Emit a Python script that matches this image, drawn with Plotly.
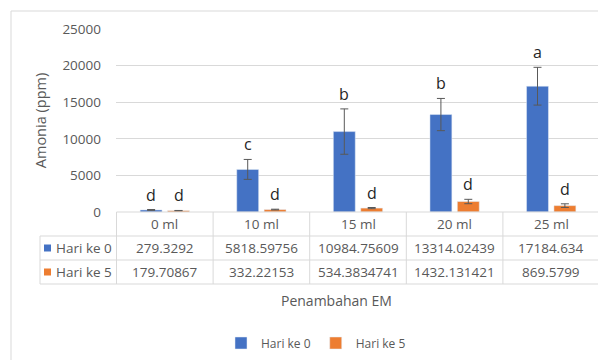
import plotly.graph_objects as go

categories = ["0 ml", "10 ml", "15 ml", "20 ml", "25 ml"]
series_names = ["Hari ke 0", "Hari ke 5"]
hari0 = [279.3292, 5818.59756, 10984.75609, 13314.02439, 17184.634]
hari5 = [179.70867, 332.22153, 534.3834741, 1432.131421, 869.5799]
err0 = [60, 1360, 3100, 2200, 2580]
err5 = [30, 50, 80, 300, 250]
letters0 = ["d", "c", "b", "b", "a"]
letters5 = ["d", "d", "d", "d", "d"]
y_ticks = [0, 5000, 10000, 15000, 20000, 25000]
y_ticktext = ["0", "5000", "10000", "15000", "20000", "25000"]
x_title = "Penambahan EM"
y_title = "Amonia (ppm)"

BLUE = "#4472C4"
ORANGE = "#ED7D31"
GRID = "#d9d9d9"
TXT = "#595959"
FONT = "Open Sans"

# the page body has an 8px margin: size the figure so it ends at the window edge
OFF = 8
W, H = 606 - OFF, 360 - OFF
ML, MR, MT, MB = 40 - OFF, 6, 29 - OFF, 76
PW, PH = W - ML - MR, H - MT - MB
plot_left_px = 116       # page coordinates
plot_bottom_px = 212
row_h = 24
xdom0 = (plot_left_px - 40) / PW
ydom0 = (284 - plot_bottom_px) / PH


def px_x(p):
    """page x pixel -> paper fraction"""
    return (p - OFF - ML) / PW


def px_y(p):
    """page y pixel -> paper fraction"""
    return ((H - MB) - (p - OFF)) / PH


fig = go.Figure()
err_color = "#595959"
fig.add_trace(go.Bar(
    name=series_names[0], x=categories, y=hari0, marker_color=BLUE,
    error_y=dict(type="data", array=err0, color=err_color, thickness=1, width=4),
))
fig.add_trace(go.Bar(
    name=series_names[1], x=categories, y=hari5, marker_color=ORANGE,
    error_y=dict(type="data", array=err5, color=err_color, thickness=1, width=4),
))

annotations = []
shapes = []
lfont = dict(family=FONT, size=16, color="#262626")
for i, c in enumerate(categories):
    annotations.append(dict(x=c, y=hari0[i] + err0[i], xref="x", yref="y", text=letters0[i],
                            showarrow=False, xshift=-13.75, yanchor="bottom", yshift=2, font=lfont))
    annotations.append(dict(x=c, y=hari5[i] + err5[i], xref="x", yref="y", text=letters5[i],
                            showarrow=False, xshift=13.75, yanchor="bottom", yshift=2, font=lfont))

# ---- data table under the chart (Excel-style) ----
tfont = dict(family=FONT, size=13.5, color=TXT)
top = plot_bottom_px
rows_y = [top + row_h * k for k in range(4)]  # 212, 236, 260, 284
for i, c in enumerate(categories):
    annotations.append(dict(x=c, xref="x", y=px_y(rows_y[0] + row_h / 2), yref="paper", text=c,
                            showarrow=False, xanchor="center", yanchor="middle", font=tfont))
for r, (name, vals, col) in enumerate([(series_names[0], hari0, BLUE), (series_names[1], hari5, ORANGE)]):
    yc = rows_y[r + 1] + row_h / 2
    for i, c in enumerate(categories):
        annotations.append(dict(x=c, xref="x", y=px_y(yc), yref="paper", text=str(vals[i]),
                                showarrow=False, xanchor="center", yanchor="middle", font=tfont))
    annotations.append(dict(x=px_x(54), xref="paper", y=px_y(yc), yref="paper", text=name,
                            showarrow=False, xanchor="left", yanchor="middle", font=tfont))
    shapes.append(dict(type="rect", xref="paper", yref="paper",
                       x0=px_x(44), x1=px_x(51), y0=px_y(yc - 3.5), y1=px_y(yc + 3.5),
                       fillcolor=col, line=dict(width=0)))
shapes.append(dict(type="line", xref="x", yref="paper", x0=-0.5, x1=len(categories) - 0.5,
                   y0=px_y(rows_y[0]), y1=px_y(rows_y[0]), line=dict(color=GRID, width=1)))
for k in (1, 2, 3):
    shapes.append(dict(type="line", xref="paper", yref="paper", x0=0, x1=1,
                       y0=px_y(rows_y[k]), y1=px_y(rows_y[k]), line=dict(color=GRID, width=1)))
shapes.append(dict(type="line", xref="paper", yref="paper", x0=0, x1=0,
                   y0=px_y(rows_y[1]), y1=px_y(rows_y[3]), line=dict(color=GRID, width=1)))
for i in range(len(categories) + 1):
    shapes.append(dict(type="line", xref="x", yref="paper", x0=i - 0.5, x1=i - 0.5,
                       y0=px_y(rows_y[0]), y1=px_y(rows_y[3]), line=dict(color=GRID, width=1)))

annotations.append(dict(x=px_x(336), y=px_y(300), xref="paper", yref="paper", text=x_title,
                        showarrow=False, xanchor="center", yanchor="middle",
                        font=dict(family=FONT, size=14, color=TXT)))

# outer chart border (partially visible in the crop)
shapes += [
    dict(type="line", xref="paper", yref="paper", x0=px_x(11), x1=px_x(606), y0=px_y(11), y1=px_y(11),
         line=dict(color=GRID, width=1)),
    dict(type="line", xref="paper", yref="paper", x0=px_x(11), x1=px_x(11), y0=px_y(11), y1=px_y(360),
         line=dict(color=GRID, width=1)),
]

fig.update_layout(
    width=W, height=H, autosize=False,
    margin=dict(l=ML, r=MR, t=MT, b=MB, autoexpand=False),
    paper_bgcolor="white", plot_bgcolor="white",
    barmode="group", bargap=0.433, bargroupgap=0.2,
    font=dict(family=FONT, color=TXT),
    showlegend=True,
    legend=dict(orientation="h", x=px_x(316), xanchor="center", y=px_y(343), yanchor="middle",
                font=dict(family=FONT, size=12, color=TXT), bgcolor="rgba(0,0,0,0)",
                itemwidth=30),
    xaxis=dict(domain=[xdom0, 1], showticklabels=False, showline=False, showgrid=False,
               zeroline=False, ticks=""),
    yaxis=dict(domain=[ydom0, 1], range=[0, 25000], tickvals=y_ticks, ticktext=y_ticktext,
               showline=False, gridcolor=GRID, zeroline=False, ticks="", ticklabelstandoff=14,
               tickfont=dict(family=FONT, size=13.5, color=TXT),
               title=dict(text=y_title, standoff=12,
                          font=dict(family=FONT, size=14.5, color=TXT))),
    annotations=annotations,
    shapes=shapes,
)

fig.write_html("out.html")
